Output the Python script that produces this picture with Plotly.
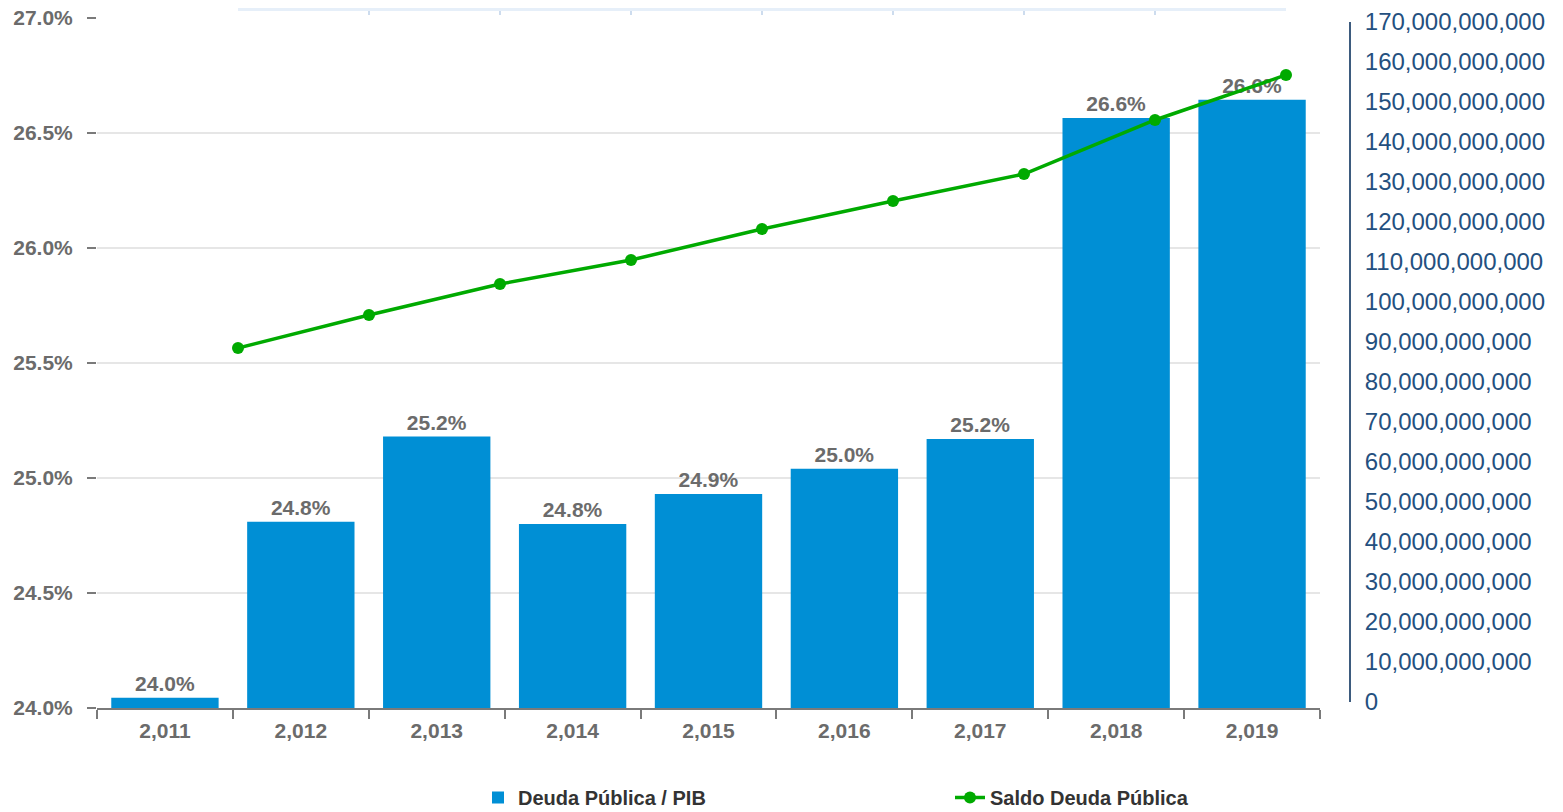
import plotly.graph_objects as go

# ---- data ----
years = [2011, 2012, 2013, 2014, 2015, 2016, 2017, 2018, 2019]
year_labels = ["2,011", "2,012", "2,013", "2,014", "2,015", "2,016", "2,017", "2,018", "2,019"]
deuda_pib = [24.045, 24.81, 25.18, 24.80, 24.93, 25.04, 25.17, 26.565, 26.645]
saldo_deuda = [88.5e9, 96.75e9, 104.5e9, 110.5e9, 118.25e9, 125.25e9, 132.0e9, 145.5e9, 156.75e9]

FONT = "Arial, Liberation Sans, sans-serif"
GRAY = "#6b6b6b"
BLUE_TXT = "#24507f"

# ---- layout geometry (page pixels; the page body has an 8px margin) ----
OFF = 8
W, H = 1563 - OFF, 812 - OFF
ML = 97 - OFF
MT = 9 - OFF
bottom_fig = 708 - OFF
MB = H - bottom_fig
MR = W - (1350 - OFF)
PW = W - ML - MR
PH = H - MT - MB


def px_x(p):
    return (p - OFF - ML) / PW


def px_y(p):
    return (bottom_fig - (p - OFF)) / PH


fig = go.Figure()

fig.add_trace(go.Bar(
    x=year_labels, y=deuda_pib, base=0,
    name="Deuda Pública / PIB",
    marker=dict(color="#008fd5", line=dict(width=0)),
    texttemplate="%{y:.1f}%", textposition="outside",
    textfont=dict(family=FONT, size=21, color=GRAY, weight="bold"),
    cliponaxis=False,
    xaxis="x", yaxis="y",
))

fig.add_trace(go.Scatter(
    x=years, y=saldo_deuda,
    name="Saldo Deuda Pública",
    mode="lines+markers",
    line=dict(color="#00aa00", width=3.5),
    marker=dict(color="#00aa00", size=12),
    cliponaxis=False,
    xaxis="x2", yaxis="y2",
))

fig.update_layout(
    width=W, height=H,
    margin=dict(l=ML, r=MR, t=MT, b=MB, autoexpand=False),
    paper_bgcolor="white",
    plot_bgcolor="rgba(0,0,0,0)",
    font=dict(family=FONT, color=GRAY),
    bargap=0.21,
    showlegend=True,
    legend=dict(
        orientation="h", x=px_x(478), xanchor="left",
        y=px_y(778), yanchor="top",
        font=dict(family=FONT, size=20, color="#333333", weight="bold"),
        entrywidth=427, traceorder="normal",
    ),
    xaxis=dict(
        domain=[0, px_x(1320)],
        type="category",
        tickson="boundaries",
        ticks="outside", ticklen=9, tickwidth=2, tickcolor="#7a7a7a",
        ticklabelstandoff=3,
        showline=True, linecolor="#7a7a7a", linewidth=2,
        showgrid=False, zeroline=False, automargin=False,
        tickfont=dict(family=FONT, size=21, color=GRAY, weight="bold"),
        anchor="y",
    ),
    yaxis=dict(
        domain=[0, px_y(18)],
        range=[24, 27], dtick=0.5, tick0=24,
        tickformat=".1f", ticksuffix="%",
        ticks="outside", ticklen=9, tickwidth=2, tickcolor="#7a7a7a",
        ticklabelstandoff=10, ticklabeloverflow="allow",
        showgrid=True, gridcolor="#e6e6e6", gridwidth=2,
        zeroline=False, showline=False, automargin=False,
        tickfont=dict(family=FONT, size=21, color=GRAY, weight="bold"),
        anchor="x",
    ),
    xaxis2=dict(
        domain=[px_x(238), px_x(1286)],
        range=[2011, 2019],
        anchor="free", position=1, side="top",
        showline=True, linecolor="#e6eff9", linewidth=4,
        ticks="inside", ticklen=4, tickwidth=2, tickcolor="#cddcee",
        dtick=1, tick0=2011, automargin=False,
        showticklabels=False, showgrid=False, zeroline=False,
    ),
    yaxis2=dict(
        domain=[px_y(702), px_y(22)],
        range=[0, 170e9], dtick=10e9, tick0=0,
        tickformat=",d",
        anchor="free", position=1, side="right",
        showline=True, linecolor="#3d5b7e", linewidth=2,
        ticks="", ticklabelstandoff=9, automargin=False,
        ticklabeloverflow="allow",
        showgrid=False, zeroline=False,
        tickfont=dict(family=FONT, size=24, color=BLUE_TXT),
    ),
)

fig.write_html("out.html")
